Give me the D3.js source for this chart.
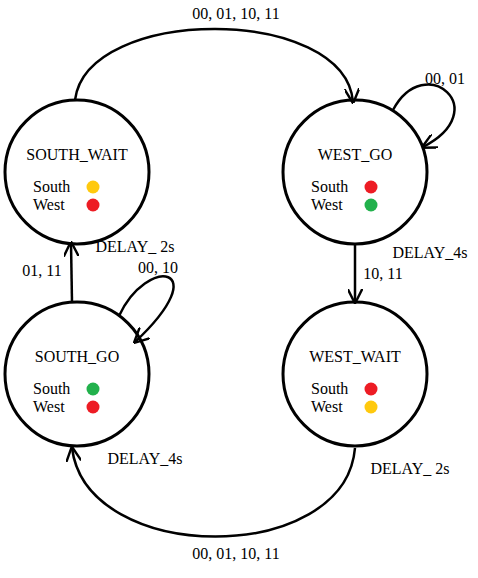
<!DOCTYPE html>
<html><head><meta charset="utf-8">
<script src="https://cdn.jsdelivr.net/npm/d3@7"></script>
<style>body{margin:0;background:#fff}text{font-family:"Liberation Serif","Times New Roman","DejaVu Serif",serif;font-size:16px;fill:#000}</style>
</head><body><div id="chart"></div>
<script>
// states and their lights
var stateNames = ["SOUTH_WAIT", "WEST_GO", "SOUTH_GO", "WEST_WAIT"];
var stateCol = [0, 1, 0, 1];
var stateRow = [0, 0, 1, 1];
var southLight = ["yellow", "red", "green", "red"];
var westLight = ["red", "green", "red", "yellow"];
var edgeLabels = ["00, 01, 10, 11", "00, 01", "10, 11", "00, 01, 10, 11", "01, 11", "00, 10"];
var delayLabels = ["DELAY_ 2s", "DELAY_4s", "DELAY_ 2s", "DELAY_4s"];

var lightColor = {red: "#ed1c24", yellow: "#ffc90e", green: "#22b14c"};
var x = d3.scaleLinear().domain([0, 1]).range([77, 355]);
var y = d3.scaleLinear().domain([0, 1]).range([172, 374]);
var R = 72;

var svg = d3.select("#chart").append("svg").attr("width", 478).attr("height", 578);

svg.append("defs").append("marker").attr("id", "arr")
  .attr("viewBox", "0 0 10 10").attr("refX", 9).attr("refY", 5)
  .attr("markerWidth", 6).attr("markerHeight", 6).attr("orient", "auto-start-reverse")
  .append("path").attr("d", "M0,0 L10,5 L0,10").attr("fill", "none").attr("stroke", "#000").attr("stroke-width", 1.6);

var nodes = stateNames.map(function(n, i){ return {name: n, cx: x(stateCol[i]), cy: y(stateRow[i])}; });

var g = svg.selectAll("g.state").data(nodes).enter().append("g")
  .attr("transform", function(d){ return "translate(" + d.cx + "," + d.cy + ")"; });
g.append("circle").attr("r", R).attr("fill", "none").attr("stroke", "#000").attr("stroke-width", 3);
g.append("text").attr("text-anchor", "middle").attr("y", -12).text(function(d){ return d.name; });
g.append("text").attr("x", -44).attr("y", 20).text("South");
g.append("text").attr("x", -44).attr("y", 38).text("West");
g.append("circle").attr("cx", 16).attr("cy", 15).attr("r", 6.5).attr("fill", function(d, i){ return lightColor[southLight[i]]; });
g.append("circle").attr("cx", 16).attr("cy", 33).attr("r", 6.5).attr("fill", function(d, i){ return lightColor[westLight[i]]; });

var n = nodes;
var paths = [
  "M" + (n[0].cx - 2) + "," + (n[0].cy - R) + " C" + (n[0].cx + 10) + ",5 " + (n[1].cx - 10) + ",5 " + (n[1].cx - 2) + "," + (n[1].cy - R + 2),
  "M" + (n[1].cx + 38) + "," + (n[1].cy - 62) + " C" + (n[1].cx + 70) + ",50 " + (n[1].cx + 140) + ",110 " + (n[1].cx + 68) + "," + (n[1].cy - 25),
  "M" + n[1].cx + "," + (n[1].cy + R + 1) + " L" + n[1].cx + "," + (n[3].cy - R),
  "M" + (n[3].cx) + "," + (n[3].cy + R + 2) + " C" + (n[3].cx - 10) + ",566 " + (n[2].cx + 10) + ",566 " + (n[2].cx - 5) + "," + (n[2].cy + R + 2),
  "M" + (n[2].cx - 5) + "," + (n[2].cy - R) + " L" + (n[0].cx - 6) + "," + (n[0].cy + R - 1),
  "M" + (n[2].cx + 42) + "," + (n[2].cy - 58) + " C" + (n[2].cx + 70) + ",255 " + (n[2].cx + 140) + ",265 " + (n[2].cx + 58) + "," + (n[2].cy - 32)
];
svg.selectAll("path.edge").data(paths).enter().append("path")
  .attr("d", function(d){ return d; }).attr("fill", "none").attr("stroke", "#000").attr("stroke-width", 2.5)
  .attr("marker-end", "url(#arr)");

var edgeLabelPos = [[236, 19], [445, 84], [383, 279], [236, 559], [42, 276], [158, 273]];
svg.selectAll("text.el").data(edgeLabels).enter().append("text").attr("text-anchor", "middle")
  .attr("x", function(d, i){ return edgeLabelPos[i][0]; }).attr("y", function(d, i){ return edgeLabelPos[i][1]; })
  .text(function(d){ return d; });

var delayPos = [[135, 252], [430, 258], [410, 474], [145, 464]];
svg.selectAll("text.dl").data(delayLabels).enter().append("text").attr("text-anchor", "middle")
  .attr("x", function(d, i){ return delayPos[i][0]; }).attr("y", function(d, i){ return delayPos[i][1]; })
  .text(function(d){ return d; });
</script></body></html>
